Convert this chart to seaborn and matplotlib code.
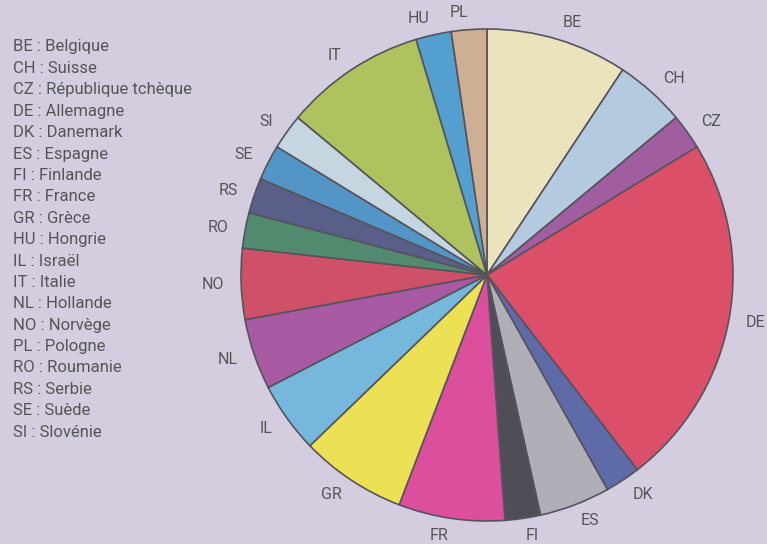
import matplotlib
matplotlib.use("Agg")
import matplotlib.pyplot as plt
import seaborn as sns

# data
codes = ["BE", "CH", "CZ", "DE", "DK", "ES", "FI", "FR", "GR", "IL",
         "NL", "NO", "RO", "RS", "SE", "SI", "IT", "HU", "PL"]
counts = [4, 2, 1, 10, 1, 2, 1, 3, 3, 2, 2, 2, 1, 1, 1, 1, 4, 1, 1]
colors = ["#ebe3bc", "#b3cae0", "#a05ea0", "#dc4f68", "#5f6aa8", "#b0afb8",
          "#4f4d55", "#dc4f9c", "#ece055", "#76b8dc", "#a85aa2", "#cf5167",
          "#528a70", "#5a5f8a", "#5395c6", "#c5d6e0", "#aec25e", "#529fd0",
          "#cdb093"]

legend_codes = ["BE", "CH", "CZ", "DE", "DK", "ES", "FI", "FR", "GR", "HU",
                "IL", "IT", "NL", "NO", "PL", "RO", "RS", "SE", "SI"]
legend_names = ["Belgique", "Suisse", "République tchèque", "Allemagne",
                "Danemark", "Espagne", "Finlande", "France", "Grèce",
                "Hongrie", "Israël", "Italie", "Hollande", "Norvège",
                "Pologne", "Roumanie", "Serbie", "Suède", "Slovénie"]

sns.set_theme(style="white")
plt.rcParams["font.family"] = ["Liberation Sans Narrow", "Roboto", "DejaVu Sans"]

bg = "#d4cde0"
txt = "#555555"

fig = plt.figure(figsize=(7.67, 5.44), dpi=100, facecolor=bg)
ax = fig.add_axes([0, 0, 1, 1])
ax.set_facecolor(bg)

wedges, texts = ax.pie(counts, labels=codes, colors=colors, startangle=90,
                       counterclock=False, labeldistance=1.07,
                       wedgeprops=dict(edgecolor="#55545c", linewidth=1.2),
                       textprops=dict(color=txt, fontsize=11.5))

# pixel-equivalent limits: radius 246 px, centre at (487, 275)
r = 246.0
ax.set_xlim(-487 / r, (767 - 487) / r)
ax.set_ylim(-(544 - 275) / r, 275 / r)
ax.set_aspect("equal")
ax.axis("off")

for i, (c, n) in enumerate(zip(legend_codes, legend_names)):
    fig.text(13 / 767, 1 - (47 + i * 21.4) / 544, f"{c} : {n}",
             ha="left", va="center", color=txt, fontsize=12)

plt.savefig("out.png", dpi=100, facecolor=bg)
